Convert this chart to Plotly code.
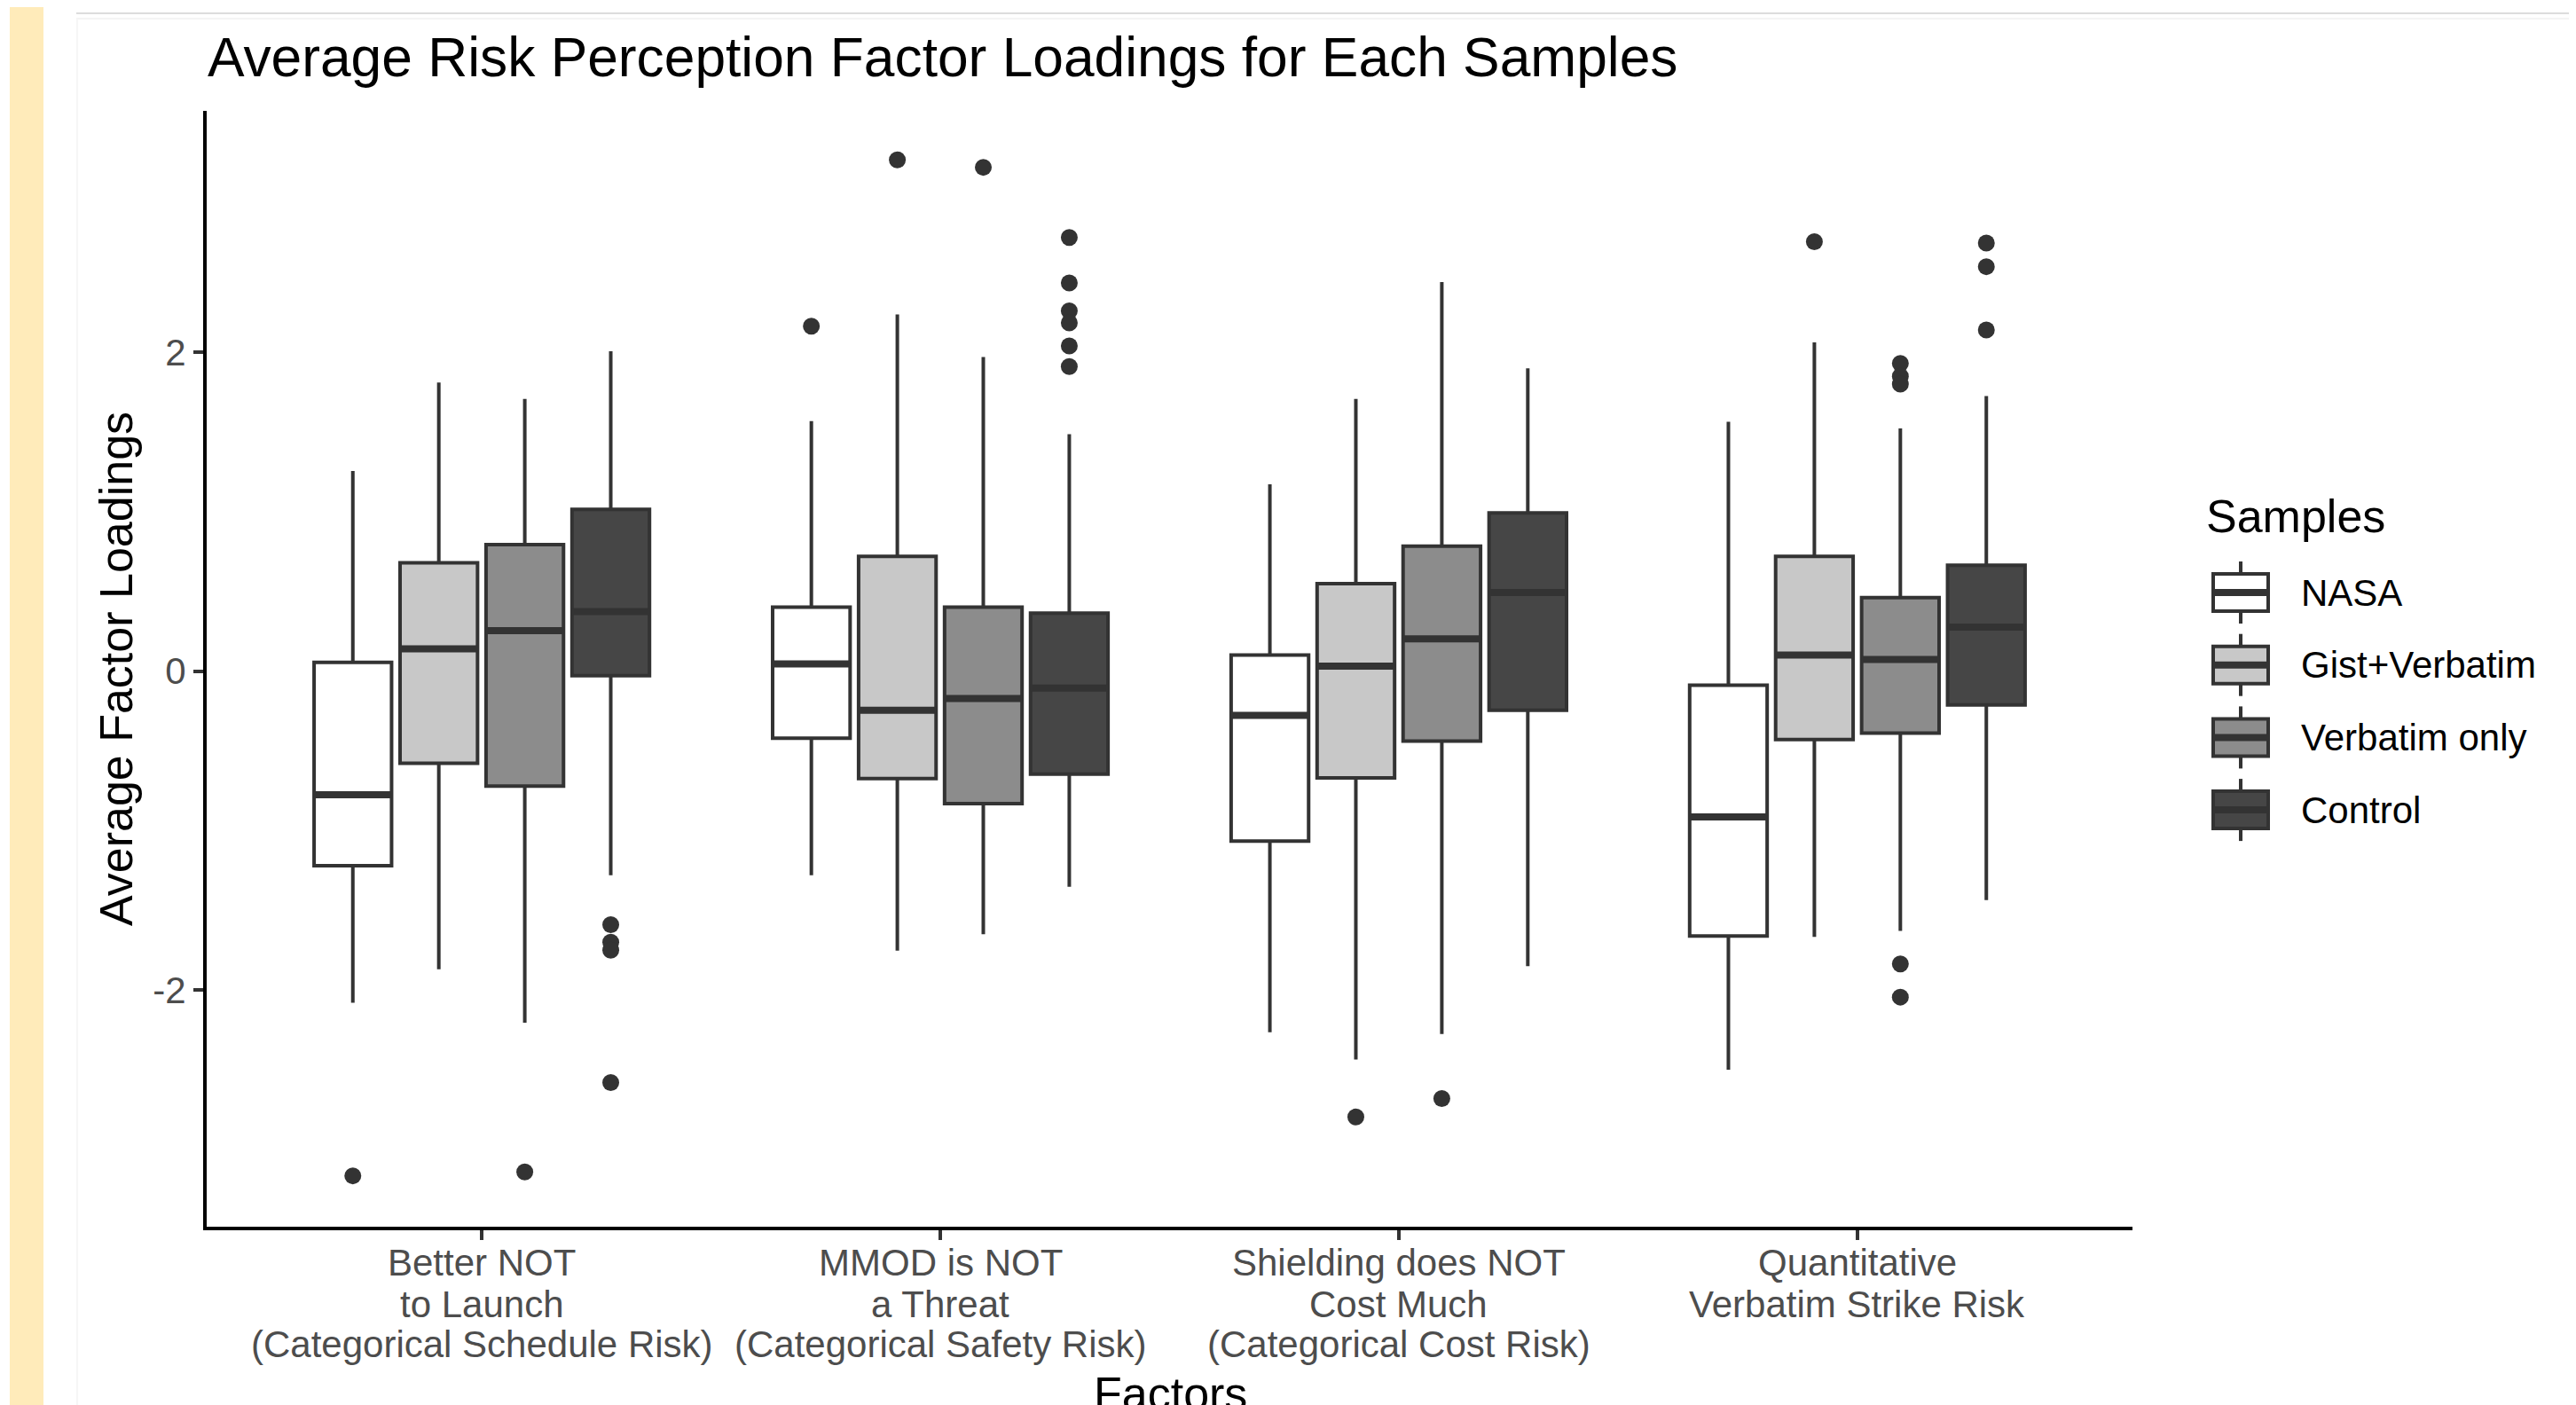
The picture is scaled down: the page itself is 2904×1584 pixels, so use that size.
import plotly.graph_objects as go

# ---------------- data ----------------
factor_lines = [
    ["Better NOT", "to Launch", "(Categorical Schedule Risk)"],
    ["MMOD is NOT", "a Threat", "(Categorical Safety Risk)"],
    ["Shielding does NOT", "Cost Much", "(Categorical Cost Risk)"],
    ["Quantitative", "Verbatim Strike Risk"],
]
samples = ["NASA", "Gist+Verbatim", "Verbatim only", "Control"]
fills = ["#FFFFFF", "#C8C8C8", "#8C8C8C", "#464646"]

upper_nasa = [1.255, 1.569, 1.172, 1.564]
q3_nasa = [0.055, 0.401, 0.101, -0.088]
med_nasa = [-0.775, 0.046, -0.277, -0.914]
q1_nasa = [-1.22, -0.42, -1.066, -1.661]
lower_nasa = [-2.08, -1.28, -2.265, -2.50]

upper_gist = [1.81, 2.238, 1.707, 2.062]
q3_gist = [0.68, 0.72, 0.549, 0.72]
med_gist = [0.14, -0.245, 0.032, 0.101]
q1_gist = [-0.577, -0.674, -0.669, -0.429]
lower_gist = [-1.87, -1.753, -2.436, -1.666]

upper_verb = [1.707, 1.97, 2.44, 1.522]
q3_verb = [0.794, 0.401, 0.784, 0.461]
med_verb = [0.254, -0.171, 0.203, 0.074]
q1_verb = [-0.72, -0.83, -0.438, -0.388]
lower_verb = [-2.205, -1.65, -2.275, -1.629]

upper_ctrl = [2.007, 1.486, 1.90, 1.725]
q3_ctrl = [1.015, 0.364, 0.992, 0.664]
med_ctrl = [0.374, -0.106, 0.494, 0.277]
q1_ctrl = [-0.028, -0.646, -0.245, -0.212]
lower_ctrl = [-1.28, -1.352, -1.85, -1.435]

out_nasa = [[-3.165], [2.164], [], []]
out_gist = [[], [3.207], [-2.796], [2.694]]
out_verb = [[-3.14], [3.16], [-2.68], [1.93, 1.85, 1.80, -1.836, -2.044]]
out_ctrl = [[-1.59, -1.70, -1.75, -2.58], [2.72, 2.435, 2.26, 2.185, 2.04, 1.91], [], [2.685, 2.537, 2.14]]

y_tick_vals = [-2, 0, 2]
y_tick_text = ["-2", "0", "2"]

title_text = "Average Risk Perception Factor Loadings for Each Samples"
x_title = "Factors"
y_title = "Average Factor Loadings"
legend_title = "Samples"

stats = [
    (q1_nasa, med_nasa, q3_nasa, lower_nasa, upper_nasa, out_nasa),
    (q1_gist, med_gist, q3_gist, lower_gist, upper_gist, out_gist),
    (q1_verb, med_verb, q3_verb, lower_verb, upper_verb, out_verb),
    (q1_ctrl, med_ctrl, q3_ctrl, lower_ctrl, upper_ctrl, out_ctrl),
]

# ---------------- layout geometry ----------------
PAGE_W, PAGE_H = 2904, 1584
OFF = 8  # default HTML body margin: figure origin sits at page (8, 8)
W, H = PAGE_W - OFF, PAGE_H - OFF
# plot area in page pixels
PL, PR, PT, PB = 233, 2404, 125, 1383
FONT = "Liberation Sans, Arial, Helvetica, sans-serif"
LINE = "#333333"
LW = 4
MED_LW = 8
dodge = 0.1875
box_w = 0.169
SMALL = 42
BASE = 52
TITLE = 62.3


def px_x(px):
    return (px - PL) / (PR - PL)


def px_y(py):
    return (PB - py) / (PB - PT)


cats = [i + 1 for i in range(len(factor_lines))]

fig = go.Figure()

for si, name in enumerate(samples):
    q1, med, q3, lo, hi, outs = stats[si]
    off = (si - 1.5) * dodge
    xs = [c + off for c in cats]
    fig.add_trace(go.Box(
        x=xs, q1=q1, median=med, q3=q3, lowerfence=lo, upperfence=hi,
        width=box_w, fillcolor=fills[si],
        line=dict(color=LINE, width=LW), whiskerwidth=0,
        boxpoints=False, name=name, showlegend=False, hoverinfo="skip",
    ))
    # fattened median line
    mx, my = [], []
    for x, m in zip(xs, med):
        mx += [x - box_w / 2, x + box_w / 2, None]
        my += [m, m, None]
    fig.add_trace(go.Scatter(x=mx, y=my, mode="lines",
                             line=dict(color=LINE, width=MED_LW),
                             showlegend=False, hoverinfo="skip"))
    # outliers
    ox, oy = [], []
    for x, pts in zip(xs, outs):
        for p in pts:
            ox.append(x)
            oy.append(p)
    fig.add_trace(go.Scatter(x=ox, y=oy, mode="markers",
                             marker=dict(color=LINE, size=19, line=dict(width=0)),
                             showlegend=False, hoverinfo="skip"))

annotations = []
# x tick labels (multi-line, ggplot line spacing)
line_mid = [1424, 1470, 1515]
for c, lines in zip(cats, factor_lines):
    for li, t in enumerate(lines):
        annotations.append(dict(
            x=c, xref="x", y=px_y(line_mid[li]), yref="paper",
            text=t, showarrow=False, xanchor="center", yanchor="middle",
            font=dict(family=FONT, size=SMALL, color="#4D4D4D"),
        ))
# axis titles
annotations.append(dict(x=px_x(1319), xref="paper", y=px_y(1571), yref="paper",
                        text=x_title, showarrow=False, xanchor="center", yanchor="middle",
                        font=dict(family=FONT, size=BASE, color="#000000")))
annotations.append(dict(x=px_x(131), xref="paper", y=px_y(754), yref="paper",
                        text=y_title, showarrow=False, textangle=-90,
                        xanchor="center", yanchor="middle",
                        font=dict(family=FONT, size=BASE, color="#000000")))
# title
annotations.append(dict(x=px_x(232), xref="paper", y=px_y(64), yref="paper",
                        text=title_text, showarrow=False, xanchor="left", yanchor="middle",
                        font=dict(family=FONT, size=TITLE, color="#000000")))

# ---------------- manual legend ----------------
shapes = []
annotations.append(dict(x=px_x(2485), xref="paper", y=px_y(582), yref="paper",
                        text=legend_title, showarrow=False, xanchor="left", yanchor="middle",
                        font=dict(family=FONT, size=BASE, color="#000000")))
key_x0, key_x1 = 2495, 2557
key_xc = (key_x0 + key_x1) / 2
key_y0, key_dy = 668, 81.7
for si, name in enumerate(samples):
    yc = key_y0 + si * key_dy
    shapes.append(dict(type="line", xref="paper", yref="paper",
                       x0=px_x(key_xc), x1=px_x(key_xc), y0=px_y(yc - 35), y1=px_y(yc - 21),
                       line=dict(color=LINE, width=LW)))
    shapes.append(dict(type="line", xref="paper", yref="paper",
                       x0=px_x(key_xc), x1=px_x(key_xc), y0=px_y(yc + 21), y1=px_y(yc + 35),
                       line=dict(color=LINE, width=LW)))
    shapes.append(dict(type="rect", xref="paper", yref="paper",
                       x0=px_x(key_x0), x1=px_x(key_x1), y0=px_y(yc - 21), y1=px_y(yc + 21),
                       fillcolor=fills[si], line=dict(color=LINE, width=LW)))
    shapes.append(dict(type="line", xref="paper", yref="paper",
                       x0=px_x(key_x0), x1=px_x(key_x1), y0=px_y(yc), y1=px_y(yc),
                       line=dict(color=LINE, width=MED_LW)))
    annotations.append(dict(x=px_x(2592), xref="paper", y=px_y(yc), yref="paper",
                            text=name, showarrow=False, xanchor="left", yanchor="middle",
                            font=dict(family=FONT, size=SMALL, color="#000000")))

# ---------------- page decorations (screenshot frame) ----------------
shapes.append(dict(type="rect", xref="paper", yref="paper", layer="below",
                   x0=px_x(11), x1=px_x(49), y0=px_y(0), y1=px_y(PAGE_H),
                   fillcolor="#FFEBBA", line=dict(width=0)))
shapes.append(dict(type="rect", xref="paper", yref="paper", layer="below",
                   x0=px_x(2898), x1=px_x(2906), y0=px_y(0), y1=px_y(PAGE_H),
                   fillcolor="#FFEBBA", line=dict(width=0)))
shapes.append(dict(type="line", xref="paper", yref="paper", layer="below",
                   x0=px_x(86), x1=px_x(2898), y0=px_y(15), y1=px_y(15),
                   line=dict(color="#DCDCDC", width=2)))
shapes.append(dict(type="line", xref="paper", yref="paper", layer="below",
                   x0=px_x(86), x1=px_x(2898), y0=px_y(21), y1=px_y(21),
                   line=dict(color="#F4F4F4", width=2)))
shapes.append(dict(type="line", xref="paper", yref="paper", layer="below",
                   x0=px_x(87), x1=px_x(87), y0=px_y(21), y1=px_y(PAGE_H),
                   line=dict(color="#F6F6F6", width=2)))

fig.update_layout(
    width=W, height=H,
    margin=dict(l=PL - OFF, r=W - (PR - OFF), t=PT - OFF, b=H - (PB - OFF), pad=0),
    paper_bgcolor="#FFFFFF", plot_bgcolor="#FFFFFF",
    boxmode="overlay",
    showlegend=False,
    font=dict(family=FONT),
    annotations=annotations,
    shapes=shapes,
    xaxis=dict(range=[0.4, 4.6], tickvals=cats, ticktext=[""] * len(cats),
               showgrid=False, zeroline=False, showline=True,
               linecolor="#000000", linewidth=LW, ticks="outside",
               ticklen=11, tickwidth=LW, tickcolor=LINE, automargin=False,
               fixedrange=True),
    yaxis=dict(range=[-3.484, 3.514], tickvals=y_tick_vals, ticktext=y_tick_text,
               showgrid=False, zeroline=False, showline=True,
               linecolor="#000000", linewidth=LW, ticks="outside",
               ticklen=11, tickwidth=LW, tickcolor=LINE, automargin=False,
               tickfont=dict(family=FONT, size=SMALL, color="#4D4D4D"),
               fixedrange=True),
)

fig.write_html("out.html", config={"displayModeBar": False})
